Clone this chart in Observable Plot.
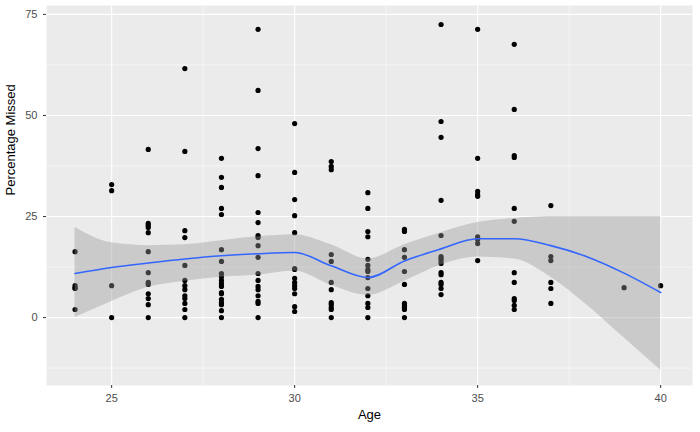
<!DOCTYPE html>
<html><head><meta charset="utf-8">
<script src="https://cdn.jsdelivr.net/npm/d3@7"></script>
<script src="https://cdn.jsdelivr.net/npm/@observablehq/plot@0.6"></script>
<style>body{margin:0;background:#fff}svg{display:block}</style>
</head><body><div id="c"></div>
<script>
const ages = [24,25,26,27,28,29,30,31,32,33,34,35,36,37,39,40];
const missed = [
 [16.3,7.9,7.4,7.2,2.0],
 [32.9,31.4,7.9,0],
 [41.6,23.3,22.8,22.3,21.0,16.3,11.1,8.7,8.2,5.9,4.7,3.2,0],
 [61.6,41.1,21.5,19.8,12.9,9.2,7.9,6.9,5.4,4.7,3.5,2.0,0],
 [39.4,34.7,32.2,27.0,25.5,16.8,13.9,10.9,10.1,9.2,8.4,7.7,6.2,5.9,4.5,3.7,3.2,1.7,0],
 [71.3,56.2,41.8,35.1,26.0,23.5,20.3,19.8,17.8,14.9,10.9,9.2,7.7,6.9,5.4,4.0,3.5,0],
 [48.0,35.9,29.2,25.2,21.0,12.1,11.9,9.7,8.7,7.9,7.2,5.9,2.7,1.5],
 [38.6,37.4,36.6,15.6,13.9,8.7,6.9,3.7,3.2,2.5,2.0,0],
 [30.9,27.0,21.3,20.0,14.4,12.9,11.9,11.4,9.9,7.2,5.4,3.5,2.5,0],
 [21.8,21.3,16.8,14.9,11.4,8.2,3.5,3.0,2.5,2.0,0],
 [72.5,48.5,44.6,29.0,20.3,15.1,14.6,14.1,13.4,11.1,10.6,8.7,8.2,7.2,5.7],
 [71.3,39.4,31.2,30.4,30.0,20.0,19.3,18.3,14.1],
 [67.6,51.5,40.1,39.6,27.0,23.8,11.1,8.7,4.7,4.2,3.0,2.0],
 [27.7,15.1,14.1,8.7,7.2,3.5],
 [7.4],
 [7.9]
];
const fitAge = [24,25,26,27,28,29,30,31,32,33,34,35,36,37,38,39,40];
const fitY   = [10.9,12.4,13.5,14.5,15.3,15.8,16.1,12.8,9.9,14.0,17.0,19.5,19.5,17.8,15.0,11.0,6.2];
const fitLo  = [0,4,7.5,9,10,10.5,11.5,8,5.5,9,13,15,14.5,10,3,-5,-13];
const fitHi  = [22.3,18.5,17.8,18,19,20,20.5,18,14.5,18,21,23.5,24.5,25,25,25,25];
const xMajor = [25,30,35,40], xMinor = [27.5,32.5,37.5];
const yMajor = [0,25,50,75], yMinor = [-12.5,12.5,37.5,62.5];

const pts = ages.flatMap((a,i)=>missed[i].map(v=>({a,v})));
const fit = fitAge.map((a,i)=>({a,y:fitY[i],lo:fitLo[i],hi:fitHi[i]}));

const chart = Plot.plot({
  width:700,height:432,
  marginLeft:46,marginRight:8,marginTop:5,marginBottom:47,
  style:{fontFamily:"Liberation Sans, Arial, sans-serif",fontSize:"11px",color:"#4D4D4D"},
  x:{domain:[23.22,40.87],ticks:xMajor,tickSize:3,tickPadding:2,label:null},
  y:{domain:[-16.8,77.2],ticks:yMajor,tickSize:3,tickPadding:2,label:null},
  marks:[
    Plot.frame({fill:"#EBEBEB",stroke:null}),
    Plot.ruleX(xMinor,{stroke:"#fff",strokeWidth:0.5}),
    Plot.ruleY(yMinor,{stroke:"#fff",strokeWidth:0.5}),
    Plot.ruleX(xMajor,{stroke:"#fff",strokeWidth:1.1}),
    Plot.ruleY(yMajor,{stroke:"#fff",strokeWidth:1.1}),
    Plot.dot(pts,{x:"a",y:"v",r:2.6,fill:"#000",stroke:null}),
    Plot.areaY(fit,{x:"a",y1:"lo",y2:"hi",fill:"#999",fillOpacity:0.4,curve:"monotone-x"}),
    Plot.line(fit,{x:"a",y:"y",stroke:"#3366FF",strokeWidth:1.6,curve:"monotone-x"}),
    Plot.axisX({ticks:xMajor,tickSize:3,stroke:"#333",color:"#4D4D4D",label:null}),
    Plot.axisY({ticks:yMajor,tickSize:3,stroke:"#333",color:"#4D4D4D",label:null}),
    Plot.text(["Age"],{frameAnchor:"bottom",dy:33,fontSize:13,fill:"#000"}),
    Plot.text(["Percentage Missed"],{frameAnchor:"left",dx:-36,rotate:-90,fontSize:13,fill:"#000"})
  ]
});
document.getElementById("c").append(chart);
</script></body></html>
